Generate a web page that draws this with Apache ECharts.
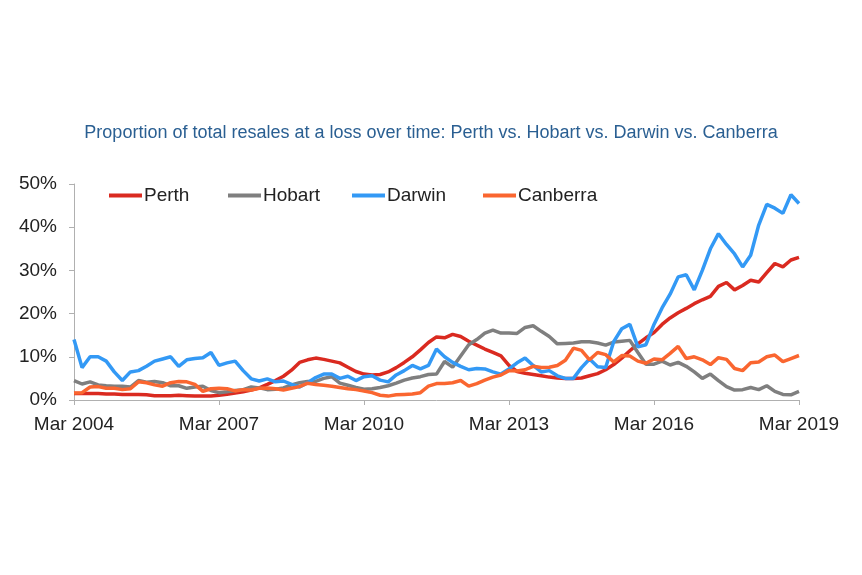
<!DOCTYPE html>
<html>
<head>
<meta charset="utf-8">
<script src="https://cdn.jsdelivr.net/npm/echarts@6/dist/echarts.min.js"></script>
<style>
html,body{margin:0;padding:0;background:#fff;}
#chart{width:862px;height:575px;}
</style>
</head>
<body>
<div id="chart"></div>
<script>
// Bi-monthly observations, Mar 2004 .. Mar 2019 (91 points)
var monthNames = ['Jan','Feb','Mar','Apr','May','Jun','Jul','Aug','Sep','Oct','Nov','Dec'];
var categories = [];
(function(){
  var m = 2, y = 2004;
  for (var i = 0; i < 91; i++) {
    categories.push(monthNames[m] + ' ' + y);
    m += 2; if (m > 11) { m -= 12; y += 1; }
  }
})();
var tickLabels = ['Mar 2004','Mar 2007','Mar 2010','Mar 2013','Mar 2016','Mar 2019'];
var yTicks = [0, 10, 20, 30, 40, 50];

var perth = [
1.5,1.5,1.5,1.5,1.4,1.4,1.3,1.3,1.3,1.2,
1.0,1.0,1.0,1.1,1.0,0.9,0.9,0.9,1.1,1.3,
1.6,1.9,2.3,2.8,3.6,4.5,5.5,6.9,8.7,9.3,
9.7,9.4,9.0,8.6,7.6,6.6,6.0,5.8,5.9,6.5,
7.5,8.7,10.0,11.6,13.3,14.6,14.4,15.2,14.7,13.6,
12.7,11.8,11.0,10.2,8.0,6.6,6.2,5.9,5.6,5.3,
5.1,5.0,5.0,5.1,5.6,6.1,7.0,8.2,9.7,11.4,
13.0,14.4,15.6,17.5,19.0,20.2,21.2,22.3,23.2,24.0,
26.3,27.2,25.5,26.5,27.7,27.3,29.5,31.6,30.8,32.4,
33.0];
var hobart = [
4.5,3.7,4.2,3.5,3.3,3.2,3.2,3.0,4.5,4.1,
4.3,4.0,3.3,3.3,2.7,3.0,3.2,2.2,1.7,1.9,
2.2,2.4,3.0,2.8,2.4,2.5,2.8,3.5,4.0,4.3,
4.3,5.0,5.4,3.9,3.4,2.9,2.5,2.6,2.9,3.3,
3.9,4.6,5.1,5.4,5.9,6.0,8.9,7.6,10.2,12.8,
14.0,15.5,16.2,15.5,15.5,15.4,16.8,17.2,15.9,14.7,
13.0,13.1,13.2,13.5,13.5,13.2,12.7,13.4,13.6,13.8,
11.0,8.3,8.3,9.0,8.1,8.7,7.8,6.5,5.0,6.0,
4.5,3.1,2.3,2.4,2.9,2.4,3.3,2.0,1.3,1.2,
2.0];
var darwin = [
14.0,7.5,10.0,10.0,9.0,6.5,4.5,6.5,6.8,7.8,
9.0,9.5,10.0,7.8,9.3,9.6,9.8,11.0,8.0,8.6,
9.0,6.8,4.9,4.4,4.9,4.2,4.4,3.6,3.0,4.0,
5.2,6.0,6.0,5.0,5.5,4.5,5.4,5.6,4.6,4.2,
5.8,6.8,8.0,7.2,8.0,11.8,10.0,8.7,7.8,7.0,
7.3,7.2,6.5,6.0,7.2,8.6,9.7,8.0,6.5,6.8,
5.6,5.0,5.0,7.5,9.5,7.7,7.5,13.5,16.5,17.5,
12.3,12.8,17.5,21.3,24.5,28.5,29.0,25.5,30.0,35.0,
38.5,36.0,33.8,30.8,33.5,40.5,45.3,44.4,43.2,47.5,
45.5];
var canberra = [
1.6,1.7,3.0,3.1,2.7,2.7,2.4,2.6,4.2,4.0,
3.5,3.2,4.0,4.3,4.2,3.6,2.0,2.6,2.7,2.6,
2.1,2.4,2.3,2.7,2.8,2.6,2.3,2.7,3.1,3.9,
3.6,3.4,3.2,2.9,2.6,2.4,2.1,1.7,1.1,0.9,
1.2,1.3,1.4,1.7,3.2,3.8,3.8,4.0,4.5,3.2,
3.8,4.6,5.3,5.8,6.8,6.7,7.0,7.8,7.5,7.6,
8.0,9.2,12.0,11.5,9.3,11.0,10.5,8.8,10.3,10.2,
9.0,8.5,9.5,9.3,10.8,12.4,9.6,10.0,9.3,8.2,
9.8,9.4,7.3,6.8,8.6,8.8,10.0,10.4,8.9,9.6,
10.3];

var seriesNames = ['Perth','Hobart','Darwin','Canberra'];
var seriesData = [perth, hobart, darwin, canberra];
var colors = ['#da2a20','#7f7f7f','#3399f5','#fa6630'];
var legendLefts = [104, 223, 347, 478];

var chart = echarts.init(document.getElementById('chart'), null, {renderer:'canvas'});
var fontFam = '"Liberation Sans", Arial, sans-serif';
var showTick = function(i, v){ return tickLabels.indexOf(v) >= 0; };

chart.setOption({
  animation: false,
  backgroundColor: '#ffffff',
  color: colors,
  title: {
    text: 'Proportion of total resales at a loss over time: Perth vs. Hobart vs. Darwin vs. Canberra',
    left: 'center',
    top: 119,
    textStyle: {color: '#2a5f92', fontSize: 18, fontWeight: 'normal', fontFamily: fontFam}
  },
  legend: seriesNames.map(function(n, i){
    return {
      data: [n],
      left: legendLefts[i],
      top: 181,
      icon: 'rect',
      itemWidth: 33,
      itemHeight: 4,
      textStyle: {color: '#222', fontSize: 19, fontFamily: fontFam, padding: [0,0,0,-3]}
    };
  }),
  grid: {left: 74, right: 63, top: 184, bottom: 175, containLabel: false},
  xAxis: {
    type: 'category',
    data: categories,
    boundaryGap: false,
    axisLine: {lineStyle: {color: '#b0b0b0', width: 1}},
    axisTick: {show: true, length: 5, lineStyle: {color: '#b0b0b0'}, interval: showTick},
    axisLabel: {
      color: '#222', fontSize: 19, fontFamily: fontFam, margin: 15,
      interval: showTick, showMaxLabel: true
    },
    splitLine: {show: false}
  },
  yAxis: {
    type: 'value',
    min: yTicks[0], max: yTicks[yTicks.length-1], interval: 10,
    axisLine: {show: true, lineStyle: {color: '#b0b0b0', width: 1}},
    axisTick: {show: true, length: 5, lineStyle: {color: '#b0b0b0'}},
    axisLabel: {color: '#222', fontSize: 19, fontFamily: fontFam, margin: 17, formatter: '{value}%'},
    splitLine: {show: false}
  },
  series: seriesNames.map(function(n, i){
    return {
      name: n, type: 'line', data: seriesData[i],
      showSymbol: false, symbol: 'none',
      lineStyle: {width: 3.5, color: colors[i]},
      z: [2,3,4,5][i]
    };
  })
});
</script>
</body>
</html>
